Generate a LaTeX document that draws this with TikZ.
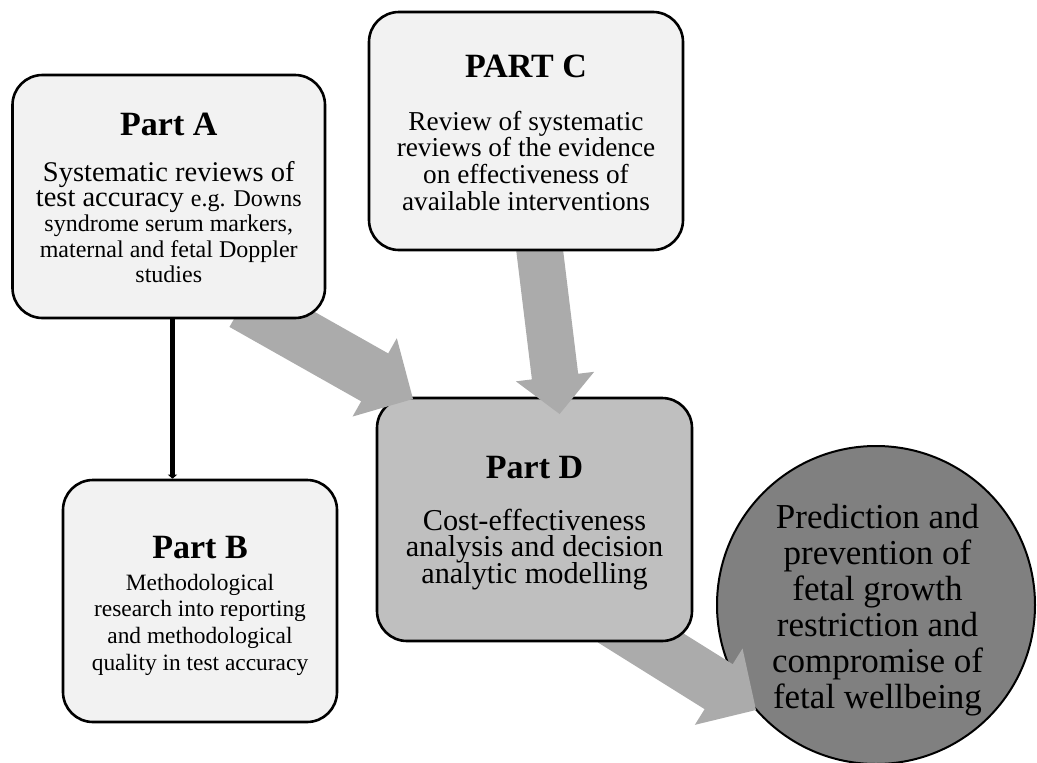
\documentclass[tikz,border=0pt]{standalone}
\usepackage{fontspec}
\setmainfont{Liberation Serif}
\usetikzlibrary{calc,arrows.meta}
\definecolor{lightbox}{HTML}{F2F2F2}
\definecolor{midbox}{HTML}{BFBFBF}
\definecolor{darkcirc}{HTML}{808080}
\definecolor{fatgrey}{HTML}{ABABAB}
\newcommand\mytitle{\fontsize{34}{34}\bfseries}
\newcommand\boxtext[2]{\vtop{\hsize=#1\relax\centering\parskip=0pt\lineskiplimit=-100pt\lineskip=0pt #2\par}}
\newcommand\fatarrow[5]{%
  \coordinate (#1h) at ($(#2)!#5!(#1)$);
  \fill[fatarrow] ($(#1)!#3!90:(#2)$) -- ($(#1h)!#3!90:(#2)$) -- ($(#1h)!#4!90:(#2)$) -- (#2)
     -- ($(#1h)!#4!-90:(#2)$) -- ($(#1h)!#3!-90:(#2)$) -- ($(#1)!#3!-90:(#2)$) -- cycle;}
\tikzset{
  roundbox/.style={draw=black, line width=2.6pt, rounded corners=30pt, inner sep=0pt},
  txt/.style={anchor=base, inner sep=0pt, text=black},
  fatarrow/.style={fill=fatgrey},
  link/.style={draw=black, line width=4.5pt, -{Triangle[width=9pt,length=4pt]}}
}
\begin{document}
\begin{tikzpicture}[x=1pt,y=-1pt]
\useasboundingbox (0,0) rectangle (1037,763);
% circle (end node)
\node[circle, draw=black, line width=2pt, fill=darkcirc, minimum size=318pt, inner sep=0pt] (E) at (876,605) {};
\node[txt] (Etext) at (877.5,528) {\boxtext{300pt}{\fontsize{35}{36}\selectfont
  Prediction and\\ prevention of\\ fetal growth\\ restriction and\\ compromise of\\ fetal wellbeing}};
% arrow D -> E
\coordinate (deS) at (612,620);
\coordinate (deT) at (756,710);
\fatarrow{deS}{deT}{26.5pt}{45pt}{44pt}
% Part D
\node[roundbox, fill=midbox, minimum width=315pt, minimum height=243pt] (D) at (534.5,519.5) {};
\node[txt] (Dtext) at (534.5,478) {\boxtext{300pt}{{\mytitle Part D}\\[25.4pt]
  \fontsize{30.3}{26.6}\selectfont Cost-effectiveness\\ analysis and decision\\ analytic modelling}};
% arrows C -> D and A -> D
\coordinate (cdS) at (539,245);
\coordinate (cdT) at (559.6,414);
\fatarrow{cdS}{cdT}{23.3pt}{39.4pt}{37.7pt}
\coordinate (adS) at (243,303);
\coordinate (adT) at (413,399);
\fatarrow{adS}{adT}{27.5pt}{45pt}{44pt}
% Part A
\node[roundbox, fill=lightbox, minimum width=312.5pt, minimum height=243pt] (A) at (168.75,196.5) {};
\node[txt] (Atext) at (168.75,135.7) {\boxtext{300pt}{{\mytitle Part A}\\[20.9pt]
  \fontsize{28.5}{25.1}\selectfont Systematic reviews of\\
  test accuracy \fontsize{24}{25.1}\selectfont e.g. Downs\\
  syndrome serum markers,\\ maternal and fetal Doppler\\ studies}};
% Part B
\node[roundbox, fill=lightbox, minimum width=274pt, minimum height=242pt] (B) at (200,601) {};
\node[txt] (Btext) at (200,558) {\boxtext{265pt}{{\mytitle Part B}\\[5.3pt]
  \fontsize{23.4}{26.7}\selectfont Methodological\\ research into reporting\\ and methodological\\ quality in test accuracy}};
% Part C
\node[roundbox, fill=lightbox, minimum width=314pt, minimum height=238pt] (C) at (526,131) {};
\node[txt] (Ctext) at (526,77) {\boxtext{300pt}{{\mytitle PART C}\\[26.3pt]
  \fontsize{27.3}{26.7}\selectfont Review of systematic\\ reviews of the evidence\\ on effectiveness of\\ available interventions}};
% A -> B
\draw[link] ([xshift=3.75pt]A.south) -- ([xshift=3.75pt]A.south |- B.north);
\end{tikzpicture}
\end{document}
